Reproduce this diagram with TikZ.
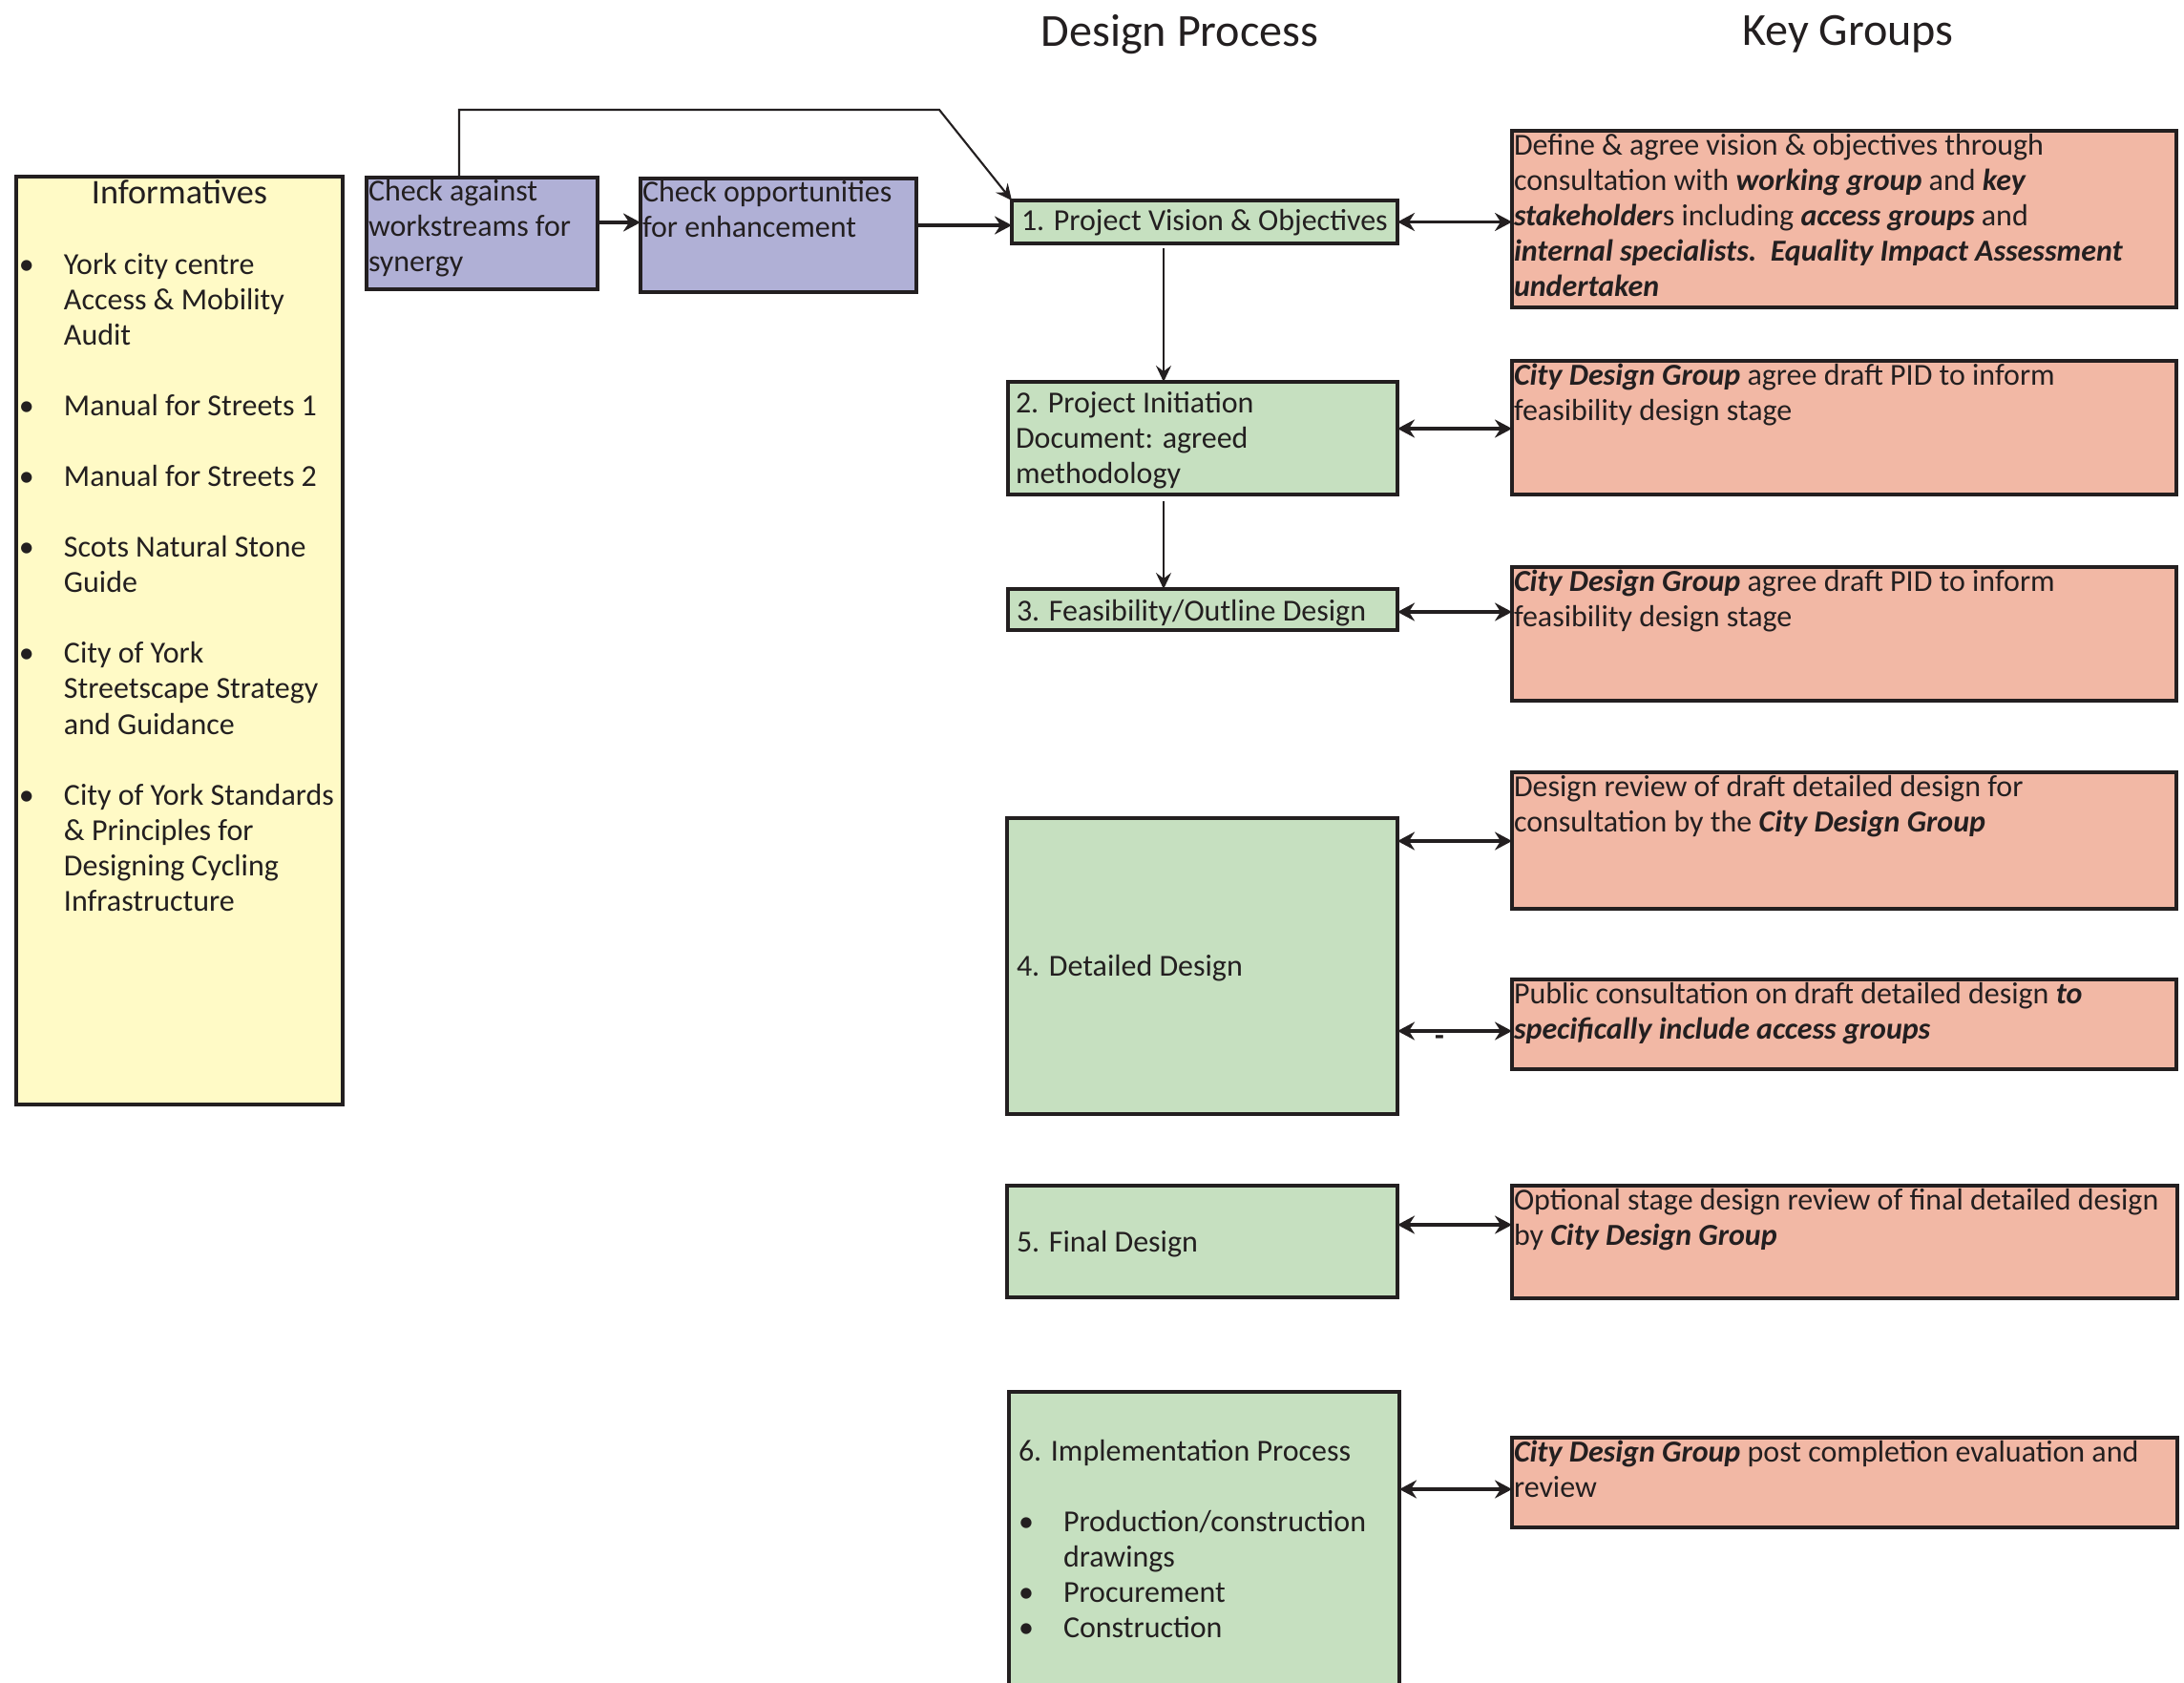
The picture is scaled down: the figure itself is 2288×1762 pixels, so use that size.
\documentclass[tikz,border=0pt]{standalone}
\usepackage{fontspec}
\setmainfont{Carlito}
\usetikzlibrary{arrows.meta,fit}
\definecolor{linec}{HTML}{231F20}
\definecolor{textc}{HTML}{231F20}
\definecolor{yelfill}{HTML}{FFFAC6}
\definecolor{purfill}{HTML}{B0B0D6}
\definecolor{grnfill}{HTML}{C6E0C0}
\definecolor{salfill}{HTML}{F2B8A5}
\newcommand{\bodyfont}{\fontsize{9.1pt}{10.55pt}\selectfont}
\newcommand{\titlefont}{\fontsize{13.7pt}{16pt}\selectfont}
\newcommand{\bi}[1]{\textbf{\textit{#1}}}
\newcommand{\bul}{\makebox[4.7mm][l]{\textbullet}}
\newcommand{\ind}{\hspace*{4.7mm}}
\newcommand{\lines}[1]{\begin{tabular}[t]{@{}l@{}}#1\end{tabular}}
\tikzset{
  x=0.1mm, y=-0.1mm,
  box/.style={draw=linec, line width=1.1pt, inner sep=0pt, outer sep=0pt},
  ybox/.style={box, fill=yelfill},
  pbox/.style={box, fill=purfill},
  gbox/.style={box, fill=grnfill},
  sbox/.style={box, fill=salfill},
  txt/.style={inner sep=0pt, outer sep=0pt, text=textc, font=\bodyfont},
  ttl/.style={inner sep=0pt, text=textc, font=\titlefont},
  dbl/.style={line width=0.9pt, draw=linec, {Stealth[length=1.8mm,width=1.9mm,inset=0.6mm]}-{Stealth[length=1.8mm,width=1.9mm,inset=0.6mm]}},
  sgl/.style={line width=0.9pt, draw=linec, -{Stealth[length=1.8mm,width=1.9mm,inset=0.6mm]}},
  thin/.style={line width=0.6pt, draw=linec, -{Stealth[length=1.7mm,width=1.6mm,inset=0.6mm]}},
}
\begin{document}
\begin{tikzpicture}
\useasboundingbox (0,0) rectangle (2288,1762);
% corner coordinates
\coordinate (infA) at (17,185);   \coordinate (infB) at (359,1157);
\coordinate (caA) at (384,186);   \coordinate (caB) at (626,303);
\coordinate (coA) at (671,187);   \coordinate (coB) at (960,306);
\coordinate (g1A) at (1060,210);  \coordinate (g1B) at (1464,255);
\coordinate (g2A) at (1056,400);  \coordinate (g2B) at (1464,518);
\coordinate (g3A) at (1056,617);  \coordinate (g3B) at (1464,660);
\coordinate (g4A) at (1055,857);  \coordinate (g4B) at (1464,1167);
\coordinate (g5A) at (1055,1242); \coordinate (g5B) at (1464,1359);
\coordinate (g6A) at (1057,1458); \coordinate (g6B) at (1466,1800);
\coordinate (r1A) at (1584,137);  \coordinate (r1B) at (2280,322);
\coordinate (r2A) at (1584,378);  \coordinate (r2B) at (2280,518);
\coordinate (r3A) at (1584,594);  \coordinate (r3B) at (2280,734);
\coordinate (r4A) at (1584,809);  \coordinate (r4B) at (2280,952);
\coordinate (r5A) at (1584,1026); \coordinate (r5B) at (2280,1120);
\coordinate (r6A) at (1584,1242); \coordinate (r6B) at (2281,1360);
\coordinate (r7A) at (1584,1506); \coordinate (r7B) at (2281,1600);
% boxes
\node[ybox, fit=(infA)(infB)] (inf) {};
\node[pbox, fit=(caA)(caB)] (ca) {};
\node[pbox, fit=(coA)(coB)] (co) {};
\node[gbox, fit=(g1A)(g1B)] (g1) {};
\node[gbox, fit=(g2A)(g2B)] (g2) {};
\node[gbox, fit=(g3A)(g3B)] (g3) {};
\node[gbox, fit=(g4A)(g4B)] (g4) {};
\node[gbox, fit=(g5A)(g5B)] (g5) {};
\node[gbox, fit=(g6A)(g6B)] (g6) {};
\node[sbox, fit=(r1A)(r1B)] (r1) {};
\node[sbox, fit=(r2A)(r2B)] (r2) {};
\node[sbox, fit=(r3A)(r3B)] (r3) {};
\node[sbox, fit=(r4A)(r4B)] (r4) {};
\node[sbox, fit=(r5A)(r5B)] (r5) {};
\node[sbox, fit=(r6A)(r6B)] (r6) {};
\node[sbox, fit=(r7A)(r7B)] (r7) {};
% titles
\node[ttl, anchor=base] (tdp) at (1236,48) {Design Process};
\node[ttl, anchor=base] (tkg) at (1936,47) {Key Groups};
% informatives
\node[txt, anchor=base, font=\fontsize{10.3pt}{12pt}\selectfont] (inft) at (188,213) {Informatives};
\node[txt, anchor=base west] (infl) at (20,287) {\lines{%
\bul York city centre\\
\ind Access \& Mobility\\
\ind Audit\\[10.55pt]
\bul Manual for Streets 1\\[10.55pt]
\bul Manual for Streets 2\\[10.55pt]
\bul Scots Natural Stone\\
\ind Guide\\[10.55pt]
\bul City of York\\
\ind Streetscape Strategy\\
\ind and Guidance\\[10.55pt]
\bul City of York Standards\\
\ind \& Principles for\\
\ind Designing Cycling\\
\ind Infrastructure}};
% check boxes text
\node[txt, anchor=base west] (cat) at (386,210) {\lines{Check against\\workstreams for\\synergy}};
\node[txt, anchor=base west] (cot) at (673,211) {\lines{Check opportunities\\for enhancement}};
% green texts
\node[txt, anchor=base west] (g1t) at (1070,241) {1. Project Vision \& Objectives};
\node[txt, anchor=base west] (g2t) at (1064,432) {\lines{2. Project Initiation\\Document: agreed\\methodology}};
\node[txt, anchor=base west] (g3t) at (1065,650) {3. Feasibility/Outline Design};
\node[txt, anchor=base west] (g4t) at (1065,1022) {4. Detailed Design};
\node[txt, anchor=base west] (g5t) at (1065,1311) {5. Final Design};
\node[txt, anchor=base west] (g6t) at (1067,1530) {\lines{6. Implementation Process\\[10.55pt]
\bul Production/construction\\
\ind drawings\\
\bul Procurement\\
\bul Construction}};
% salmon texts
\node[txt, anchor=base west] (r1t) at (1586,162) {\lines{Define \& agree vision \& objectives through\\
consultation with \bi{working group} and \bi{key}\\
\bi{stakeholder}s including \bi{access groups} and\\
\bi{internal specialists.\ \ Equality Impact Assessment}\\
\bi{undertaken}}};
\node[txt, anchor=base west] (r2t) at (1586,403) {\lines{\bi{City Design Group} agree draft PID to inform\\feasibility design stage}};
\node[txt, anchor=base west] (r3t) at (1586,619) {\lines{\bi{City Design Group} agree draft PID to inform\\feasibility design stage}};
\node[txt, anchor=base west] (r4t) at (1586,834) {\lines{Design review of draft detailed design for\\consultation by the \bi{City Design Group}}};
\node[txt, anchor=base west] (r5t) at (1586,1051) {\lines{Public consultation on draft detailed design \bi{to}\\\bi{specifically include access groups}}};
\node[txt, anchor=base west] (r6t) at (1586,1267) {\lines{Optional stage design review of final detailed design\\by \bi{City Design Group}}};
\node[txt, anchor=base west] (r7t) at (1586,1531) {\lines{\bi{City Design Group} post completion evaluation and\\review}};
\node[txt, anchor=base, font=\bfseries\bodyfont] (dashmark) at (1508,1095) {-};
% connectors
\coordinate (topL) at (481,115);
\coordinate (topR) at (984,115);
\draw[thin] (ca.north -| topL) -- (topL) -- (topR) -- (g1.north west);
\coordinate (y233) at (0,233);
\coordinate (y236) at (0,236);
\draw[sgl] (ca.east |- y233) -- (co.west |- y233);
\draw[sgl] (co.east |- y236) -- (g1.west |- y236);
\coordinate (vx) at (1219,0);
\draw[thin] ([yshift=-0.5mm]g1.south -| vx) -- (g2.north -| vx);
\draw[thin] ([yshift=-0.7mm]g2.south -| vx) -- (g3.north -| vx);
\draw[dbl] (g1.east) -- (r1.west |- g1.east);
\coordinate (a2) at (0,449);
\draw[dbl] (g2.east |- a2) -- (r2.west |- a2);
\coordinate (a3) at (0,641);
\draw[dbl] (g3.east |- a3) -- (r3.west |- a3);
\coordinate (a4) at (0,881);
\draw[dbl] (g4.east |- a4) -- (r4.west |- a4);
\coordinate (a5) at (0,1080);
\draw[dbl] (g4.east |- a5) -- (r5.west |- a5);
\coordinate (a6) at (0,1283);
\draw[dbl] (g5.east |- a6) -- (r6.west |- a6);
\coordinate (a7) at (0,1560);
\draw[dbl] (g6.east |- a7) -- (r7.west |- a7);
\end{tikzpicture}
\end{document}
